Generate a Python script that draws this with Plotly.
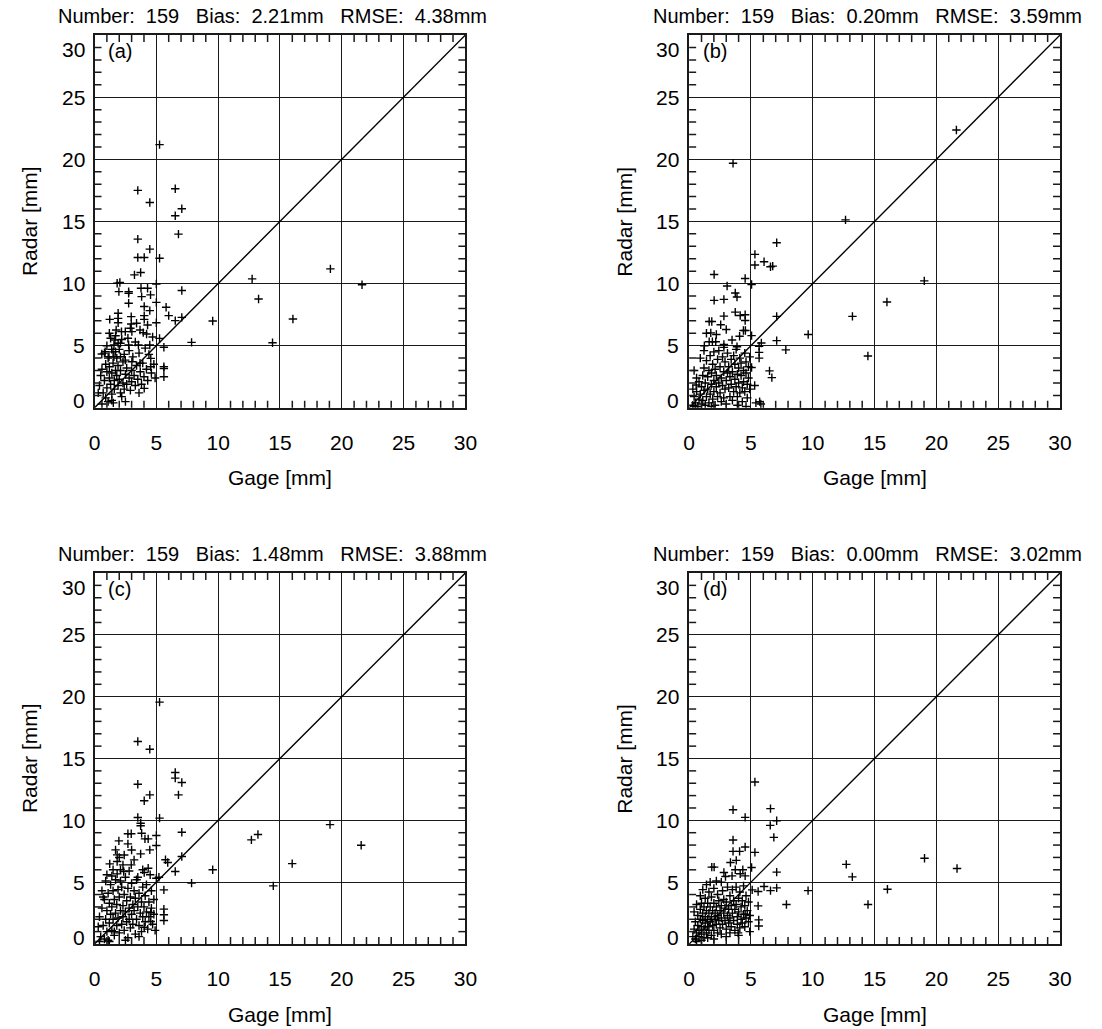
import plotly.graph_objects as go

# ---------------- data ----------------
AXIS_RANGE = [0, 30]
TICK_STEP = 5
MINOR_STEP = 1
TICK_VALUES = [0, 5, 10, 15, 20, 25, 30]
TICK_LABELS = ["0", "5", "10", "15", "20", "25", "30"]
PANEL_LABELS = ["(a)", "(b)", "(c)", "(d)"]
STATS_NUMBER = [159, 159, 159, 159]
STATS_BIAS = ["2.21", "0.20", "1.48", "0.00"]
STATS_RMSE = ["4.38", "3.59", "3.88", "3.02"]

# panel (a)
gage_a = [5.26, 3.50, 6.53, 4.47, 7.06, 6.53, 6.79, 3.50, 4.47, 3.50, 4.02, 5.26, 3.73, 3.23, 2.05, 1.83,
          5.00, 3.76, 4.29, 1.97, 2.76, 2.76, 7.06, 4.53, 3.81, 2.76, 5.00, 4.02, 5.79, 4.47, 6.00, 7.06,
          6.53, 9.56, 5.00, 4.02, 4.02, 2.97, 2.97, 1.91, 1.91, 1.91, 1.23, 4.29, 3.68, 3.94, 1.75, 2.18,
          2.49, 3.02, 4.21, 5.26, 5.61, 7.85, 1.65, 1.91, 2.10, 1.57, 2.76, 3.55, 4.47, 1.39, 1.70, 0.86,
          0.59, 1.17, 1.57, 2.10, 2.49, 3.02, 3.68, 4.55, 4.55, 5.61, 5.61, 5.61, 4.02, 1.52,
          12.75, 19.08, 21.64, 13.27, 16.05, 14.40,
          0.4, 0.5, 0.6, 0.7, 0.8, 0.9, 0.9, 1.0, 1.0, 1.1, 1.1, 1.2, 1.2, 1.3, 1.3, 1.4, 1.4, 1.5, 1.5,
          1.6, 1.6, 1.7, 1.7, 1.8, 1.8, 1.9, 1.9, 2.0, 2.0, 2.1, 2.1, 2.2, 2.3, 2.3, 2.4, 2.4, 2.5, 2.6,
          2.6, 2.7, 2.8, 2.8, 2.9, 3.0, 3.0, 3.1, 3.2, 3.3, 3.3, 3.4, 3.5, 3.6, 3.7, 3.8, 3.9, 4.0, 4.1,
          4.2, 4.3, 4.4, 4.6, 4.7, 4.8, 4.9, 0.6, 1.4, 2.2, 0.3, 2.5, 3.6, 0.8, 1.0, 2.9, 1.2, 3.4]
radar_a = [21.18, 17.50, 17.63, 16.53, 16.02, 15.46, 13.98, 13.58, 12.77, 12.10, 12.10, 12.04, 10.89, 10.70, 10.08, 10.03,
           9.97, 9.62, 9.62, 9.35, 9.35, 9.22, 9.44, 9.09, 8.95, 8.41, 8.49, 8.15, 8.09, 7.82, 7.42, 7.28,
           7.02, 6.99, 6.85, 7.42, 7.12, 7.34, 6.75, 7.61, 7.20, 6.85, 7.12, 6.67, 6.26, 6.05, 6.26, 6.13,
           6.13, 6.13, 5.94, 5.59, 4.87, 5.27, 5.46, 5.19, 5.19, 5.05, 5.05, 5.05, 5.05, 4.70, 4.52, 4.52,
           4.33, 4.11, 4.11, 4.11, 3.84, 3.71, 3.58, 3.98, 3.31, 3.31, 3.15, 2.50, 1.56, 0.40,
           10.38, 11.18, 9.90, 8.76, 7.15, 5.24,
           1.8, 2.6, 3.1, 1.2, 2.2, 3.5, 0.8, 1.6, 2.9, 4.0, 0.5, 2.4, 3.3, 1.9, 5.6, 2.8, 1.1, 3.6, 4.5,
           2.2, 1.5, 3.0, 5.8, 2.6, 4.0, 1.8, 3.4, 2.3, 4.7, 1.2, 3.0, 5.5, 2.0, 3.7, 1.5, 4.3, 2.7, 3.2,
           1.9, 5.6, 2.4, 4.6, 1.4, 3.0, 2.1, 4.1, 2.6, 1.8, 5.3, 3.4, 2.3, 4.4, 2.9, 1.9, 3.6, 2.5, 4.8,
           3.1, 2.2, 4.3, 2.8, 5.7, 3.5, 2.4, 0.3, 0.6, 0.9, 1.2, 0.5, 1.2, 4.4, 5.0, 6.4, 6.0, 6.8]

# panel (b)
gage_b = [21.62, 12.65, 7.08, 19.02, 16.00, 13.21, 7.08, 9.63, 7.08, 7.82, 14.46, 6.76,
          3.55, 5.32, 6.06, 6.58, 5.32, 2.02, 4.53, 3.07, 5.05, 3.73, 3.87, 2.02, 2.81, 3.73, 4.13, 4.53,
          2.81, 1.62, 1.83, 4.53, 2.55, 4.39, 4.55, 1.75, 4.08, 5.05, 1.62, 1.88, 2.15, 1.23, 3.47, 3.87,
          5.84, 5.66, 5.66, 5.66, 5.05, 6.50, 6.69, 2.81, 2.81, 0.57, 5.40, 5.70,
          0.3, 0.4, 0.5, 0.6, 0.7, 0.8, 0.8, 0.9, 1.0, 1.0, 1.1, 1.1, 1.2, 1.2, 1.3, 1.3, 1.4, 1.4, 1.5,
          1.5, 1.6, 1.6, 1.7, 1.7, 1.8, 1.8, 1.9, 1.9, 2.0, 2.0, 2.0, 2.1, 2.1, 2.2, 2.2, 2.3, 2.3, 2.4,
          2.4, 2.5, 2.5, 2.6, 2.6, 2.7, 2.7, 2.8, 2.8, 2.9, 2.9, 3.0, 3.0, 3.1, 3.1, 3.2, 3.2, 3.3, 3.3,
          3.4, 3.4, 3.5, 3.5, 3.6, 3.6, 3.7, 3.7, 3.8, 3.8, 3.9, 3.9, 4.0, 4.0, 4.1, 4.1, 4.2, 4.2, 4.3,
          4.3, 4.4, 4.4, 4.5, 4.5, 4.6, 4.6, 4.7, 4.7, 4.8, 4.8, 4.9, 4.9, 0.4, 0.6, 0.9, 1.2, 0.3, 2.2,
          3.0, 1.4, 5.3, 5.8, 0.5, 1.8, 3.9, 4.6]
radar_b = [22.36, 15.13, 13.29, 10.22, 8.52, 7.36, 7.36, 5.90, 5.41, 4.66, 4.17, 11.40,
           19.68, 12.35, 11.76, 11.35, 11.49, 10.73, 10.41, 9.81, 9.92, 9.24, 8.92, 8.65, 8.73, 7.70, 7.43, 7.49,
           7.38, 6.95, 6.95, 7.03, 6.68, 6.22, 6.22, 6.03, 5.76, 5.81, 5.32, 5.32, 5.32, 5.00, 5.46, 4.92,
           5.22, 4.95, 4.46, 4.00, 3.24, 2.97, 2.43, 5.10, 4.86, 1.84, 0.40, 0.50,
           0.2, 0.9, 0.4, 1.3, 0.1, 0.7, 2.1, 1.1, 0.3, 1.7, 2.6, 0.6, 1.4, 3.2, 0.2, 2.0, 0.9, 3.8, 1.5,
           2.5, 0.4, 3.0, 1.1, 4.2, 1.9, 2.8, 0.7, 3.5, 1.3, 2.2, 4.5, 0.2, 3.1, 1.7, 2.6, 0.9, 3.9, 2.0,
           4.6, 1.2, 3.3, 0.5, 2.4, 1.8, 4.1, 2.9, 0.8, 1.5, 3.7, 2.2, 0.3, 2.8, 4.4, 1.6, 3.3, 0.9, 2.5,
           3.9, 1.9, 2.9, 0.6, 4.2, 1.3, 2.3, 3.5, 1.7, 4.7, 2.7, 0.9, 3.2, 2.0, 1.2, 4.0, 2.6, 3.6, 1.6,
           0.5, 3.0, 2.1, 4.4, 1.3, 2.8, 3.7, 1.9, 0.8, 3.3, 2.4, 4.1, 1.5, 3.0, 2.4, 4.0, 4.6, 1.5, 5.9,
           6.3, 6.0, 1.8, 0.3, 0.1, 0.1, 0.2, 0.1]

# panel (c)
gage_c = [5.26, 3.50, 4.47, 6.53, 6.53, 7.06, 3.50, 6.79, 4.47, 4.02, 3.50, 5.26, 3.73, 3.73, 7.06, 2.70,
          2.97, 3.81, 5.00, 1.97, 4.08, 4.34, 2.70, 5.00, 1.70, 4.47, 1.83, 3.73, 5.74, 5.92, 7.06, 1.23,
          1.83, 2.97, 6.53, 4.34, 4.02, 9.56, 2.10, 2.36, 1.83, 3.50, 5.00, 5.21, 7.85, 5.61, 4.55, 4.55,
          5.61, 5.61, 5.61, 4.02, 19.05, 12.69, 13.22, 21.57, 15.99, 14.46,
          0.3, 0.4, 0.5, 0.6, 0.7, 0.8, 0.8, 0.9, 1.0, 1.0, 1.1, 1.1, 1.2, 1.2, 1.3, 1.3, 1.4, 1.4, 1.5,
          1.5, 1.6, 1.6, 1.7, 1.7, 1.8, 1.8, 1.9, 1.9, 2.0, 2.0, 2.1, 2.1, 2.2, 2.2, 2.3, 2.3, 2.4, 2.4,
          2.5, 2.5, 2.6, 2.6, 2.7, 2.7, 2.8, 2.8, 2.9, 2.9, 3.0, 3.0, 3.1, 3.1, 3.2, 3.2, 3.3, 3.3, 3.4,
          3.4, 3.5, 3.6, 3.6, 3.7, 3.8, 3.8, 3.9, 3.9, 4.0, 4.1, 4.1, 4.2, 4.2, 4.3, 4.4, 4.4, 4.6, 4.6,
          4.7, 4.8, 4.8, 4.9, 0.6, 0.9, 1.5, 2.3, 3.2, 1.2, 2.5, 3.6, 0.4, 2.0, 1.0, 4.5, 3.9, 2.8, 1.4,
          0.7, 2.4, 3.0, 1.6]
radar_c = [19.56, 16.37, 15.75, 13.87, 13.41, 13.06, 12.92, 12.06, 12.06, 11.58, 10.23, 10.18, 9.77, 9.56, 9.04, 8.91,
           8.91, 8.96, 8.77, 8.34, 8.50, 8.50, 8.10, 7.96, 7.61, 7.61, 7.21, 7.29, 6.81, 6.59, 7.08, 6.48,
           6.67, 6.40, 5.86, 6.13, 5.78, 6.00, 6.00, 5.86, 5.67, 5.40, 5.32, 5.40, 4.92, 4.38, 2.55, 1.82,
           2.82, 2.36, 1.90, 1.36, 9.65, 8.42, 8.86, 7.99, 6.50, 4.70,
           1.4, 2.2, 0.6, 2.9, 1.5, 0.4, 3.6, 2.0, 1.0, 2.7, 4.1, 0.3, 1.7, 3.3, 2.4, 4.8, 1.1, 3.0, 2.0,
           4.3, 0.7, 3.6, 2.5, 5.2, 1.5, 3.2, 4.4, 2.1, 0.9, 3.8, 2.7, 5.1, 1.6, 4.6, 3.1, 2.2, 1.1, 4.0,
           2.6, 5.4, 1.8, 3.5, 0.5, 4.5, 2.9, 2.0, 3.8, 1.3, 4.9, 2.4, 3.2, 1.6, 4.3, 2.7, 0.8, 3.7, 2.0,
           5.2, 3.0, 1.5, 4.1, 2.5, 3.4, 1.0, 4.6, 2.2, 3.0, 1.8, 3.9, 2.6, 4.8, 1.2, 3.4, 2.2, 2.9, 4.3,
           1.6, 3.6, 2.4, 1.1, 4.3, 5.1, 6.0, 6.4, 6.8, 0.2, 0.3, 0.6, 0.2, 7.0, 5.6, 5.6, 6.0, 5.9, 5.5,
           3.8, 7.2, 7.6, 1.0]

# panel (d)
gage_d = [5.32, 3.55, 6.58, 4.53, 7.08, 6.56, 6.85, 3.55, 3.55, 4.08, 4.53, 5.32, 3.81, 3.34, 1.83, 2.02,
          2.81, 3.73, 4.34, 5.05, 2.94, 3.47, 4.13, 4.53, 7.08, 5.10, 5.58, 6.06, 6.58, 7.08, 7.87, 9.62,
          5.58, 5.63, 5.63, 3.96, 4.53, 12.71, 13.20, 19.04, 21.67, 16.04, 14.47,
          0.3, 0.4, 0.5, 0.5, 0.6, 0.7, 0.7, 0.8, 0.8, 0.9, 0.9, 1.0, 1.0, 1.0, 1.1, 1.1, 1.2, 1.2, 1.2,
          1.3, 1.3, 1.3, 1.4, 1.4, 1.5, 1.5, 1.5, 1.6, 1.6, 1.6, 1.7, 1.7, 1.8, 1.8, 1.8, 1.9, 1.9, 2.0,
          2.0, 2.0, 2.1, 2.1, 2.2, 2.2, 2.3, 2.3, 2.3, 2.4, 2.4, 2.5, 2.5, 2.6, 2.6, 2.7, 2.7, 2.8, 2.8,
          2.9, 2.9, 3.0, 3.0, 3.1, 3.1, 3.2, 3.2, 3.3, 3.3, 3.4, 3.4, 3.5, 3.5, 3.6, 3.6, 3.7, 3.7, 3.8,
          3.8, 3.9, 3.9, 4.0, 4.0, 4.1, 4.1, 4.2, 4.2, 4.3, 4.3, 4.4, 4.4, 4.5, 4.5, 4.6, 4.6, 4.7, 4.8,
          4.8, 4.9, 0.4, 0.6, 0.9, 1.1, 1.4, 1.7, 2.2, 2.6, 1.0, 2.0, 3.0, 0.6, 1.5, 2.6, 3.3, 4.0, 4.9]
radar_d = [13.10, 10.86, 10.95, 10.24, 9.97, 9.59, 8.62, 8.41, 7.49, 7.49, 7.84, 7.41, 6.76, 6.59, 6.22, 6.22,
           5.78, 6.00, 6.00, 6.19, 5.46, 5.51, 5.68, 5.51, 5.81, 4.38, 4.24, 4.65, 4.32, 4.54, 3.20, 4.32,
           3.08, 1.95, 1.46, 0.90, 2.40, 6.44, 5.43, 6.93, 6.11, 4.43, 3.20,
           0.6, 1.2, 0.4, 1.8, 0.9, 1.5, 2.3, 0.6, 1.1, 2.0, 2.8, 0.8, 1.4, 3.3, 1.9, 2.5, 0.5, 1.2, 3.0,
           1.7, 2.2, 3.7, 0.9, 2.7, 1.4, 2.0, 3.3, 4.2, 1.1, 2.5, 1.8, 3.0, 0.7, 2.2, 3.8, 1.5, 2.7, 1.1,
           3.3, 4.5, 2.0, 2.5, 1.6, 3.0, 0.9, 2.3, 4.0, 1.9, 3.5, 2.7, 1.3, 3.1, 2.1, 4.3, 1.6, 2.5, 3.6,
           1.9, 2.9, 1.2, 3.4, 2.3, 4.6, 1.7, 2.8, 3.9, 2.1, 1.4, 3.1, 2.5, 4.4, 1.9, 3.5, 2.8, 1.1, 3.2,
           4.6, 2.2, 1.6, 3.7, 2.6, 1.3, 4.2, 2.0, 3.0, 1.7, 3.5, 2.4, 4.7, 1.4, 3.1, 2.1, 3.9, 2.7, 1.8,
           3.4, 2.3, 2.6, 3.2, 3.9, 4.4, 4.8, 5.0, 5.1, 5.0, 0.3, 0.4, 0.6, 0.2, 0.5, 0.8, 0.9, 0.7, 1.0]

GAGE = [gage_a, gage_b, gage_c, gage_d]
RADAR = [radar_a, radar_b, radar_c, radar_d]

# ---------------- layout geometry (pixels) ----------------
W, H = 1102, 1029
COLS = [(90, 467), (694.5, 1071.5)]
ROWS = [(35.1, 407.8), (573, 944)]
FONT = "Liberation Sans, Arial, Helvetica, sans-serif"
INK = "#000000"
LINE = "#1a1a1a"
MINOR_LEN = 7

MINOR_VALUES = [v for v in range(AXIS_RANGE[0], AXIS_RANGE[1] + 1, MINOR_STEP)
                if v % TICK_STEP != 0]

fig = go.Figure()
annotations = []
shapes = []

for i in range(4):
    r, c = divmod(i, 2)
    x0, x1 = COLS[c]
    ytop, ybot = ROWS[r]
    n = "" if i == 0 else str(i + 1)
    xa, ya = "x" + n, "y" + n
    xdom = [x0 / W, x1 / W]
    ydom = [1 - ybot / H, 1 - ytop / H]

    major = dict(
        range=AXIS_RANGE, tickmode="linear", tick0=AXIS_RANGE[0], dtick=TICK_STEP,
        showgrid=True, gridcolor=LINE, gridwidth=1,
        zeroline=False, showline=True, linecolor=LINE, linewidth=1.5,
        mirror=True, ticks="", fixedrange=True,
    )
    fig.update_layout({
        "xaxis" + n: dict(major, domain=xdom, anchor=ya,
                          tickfont=dict(family=FONT, size=21, color=INK), ticklabelstandoff=15),
        "yaxis" + n: dict(major, domain=ydom, anchor=xa, showticklabels=False),
    })

    fig.add_trace(go.Scatter(
        x=AXIS_RANGE, y=AXIS_RANGE, mode="lines", xaxis=xa, yaxis=ya,
        line=dict(color=INK, width=1.4), hoverinfo="skip", showlegend=False))
    fig.add_trace(go.Scatter(
        x=GAGE[i], y=RADAR[i], mode="markers", xaxis=xa, yaxis=ya,
        marker=dict(symbol="cross-thin", size=6, line=dict(color=INK, width=1.4)),
        showlegend=False))

    # minor ticks (inside, on all four sides)
    tick_line = dict(color=LINE, width=1.5)
    for v in MINOR_VALUES:
        for anchor, sgn in ((0, 1), (1, -1)):
            shapes.append(dict(type="line", xref=xa, x0=v, x1=v,
                               yref=ya + " domain", ysizemode="pixel", yanchor=anchor,
                               y0=0, y1=sgn * MINOR_LEN, line=tick_line, layer="above"))
            shapes.append(dict(type="line", yref=ya, y0=v, y1=v,
                               xref=xa + " domain", xsizemode="pixel", xanchor=anchor,
                               x0=0, x1=sgn * MINOR_LEN, line=tick_line, layer="above"))

    # y tick labels
    for v, t in zip(TICK_VALUES, TICK_LABELS):
        shift = -14 if v == AXIS_RANGE[1] else (7 if v == AXIS_RANGE[0] else 0)
        annotations.append(dict(
            xref=xa + " domain", yref=ya, x=0, y=v, text=t, showarrow=False,
            xanchor="right", yanchor="middle", xshift=-8, yshift=shift,
            font=dict(family=FONT, size=21, color=INK)))

    # panel label
    annotations.append(dict(
        xref="paper", yref="paper", x=(x0 + 12) / W, y=1 - (ytop + 16) / H,
        text=PANEL_LABELS[i], showarrow=False, xanchor="left", yanchor="middle",
        font=dict(family=FONT, size=20, color=INK)))

    # statistics title
    title = (f"Number:&nbsp;&nbsp;{STATS_NUMBER[i]}&nbsp;&nbsp;&nbsp;Bias:&nbsp;&nbsp;{STATS_BIAS[i]}mm"
             f"&nbsp;&nbsp;&nbsp;RMSE:&nbsp;&nbsp;{STATS_RMSE[i]}mm")
    annotations.append(dict(
        xref="paper", yref="paper", x=(x0 - 39) / W, y=1 - (ytop - 19) / H,
        text=title, showarrow=False, xanchor="left", yanchor="middle",
        font=dict(family=FONT, size=20, color=INK)))

    # axis titles
    annotations.append(dict(
        xref="paper", yref="paper", x=(x0 + x1) / 2 / W, y=1 - (ybot + 70) / H,
        text="Gage [mm]", showarrow=False, xanchor="center", yanchor="middle",
        font=dict(family=FONT, size=21, color=INK)))
    annotations.append(dict(
        xref="paper", yref="paper", x=(x0 - 66) / W, y=1 - (ytop + ybot) / 2 / H,
        text="Radar [mm]", showarrow=False, textangle=-90, xanchor="center", yanchor="middle",
        font=dict(family=FONT, size=21, color=INK)))

fig.update_layout(
    width=W, height=H, margin=dict(l=0, r=0, t=0, b=0),
    paper_bgcolor="white", plot_bgcolor="white",
    annotations=annotations, shapes=shapes, showlegend=False,
)

fig.write_html("out.html")
